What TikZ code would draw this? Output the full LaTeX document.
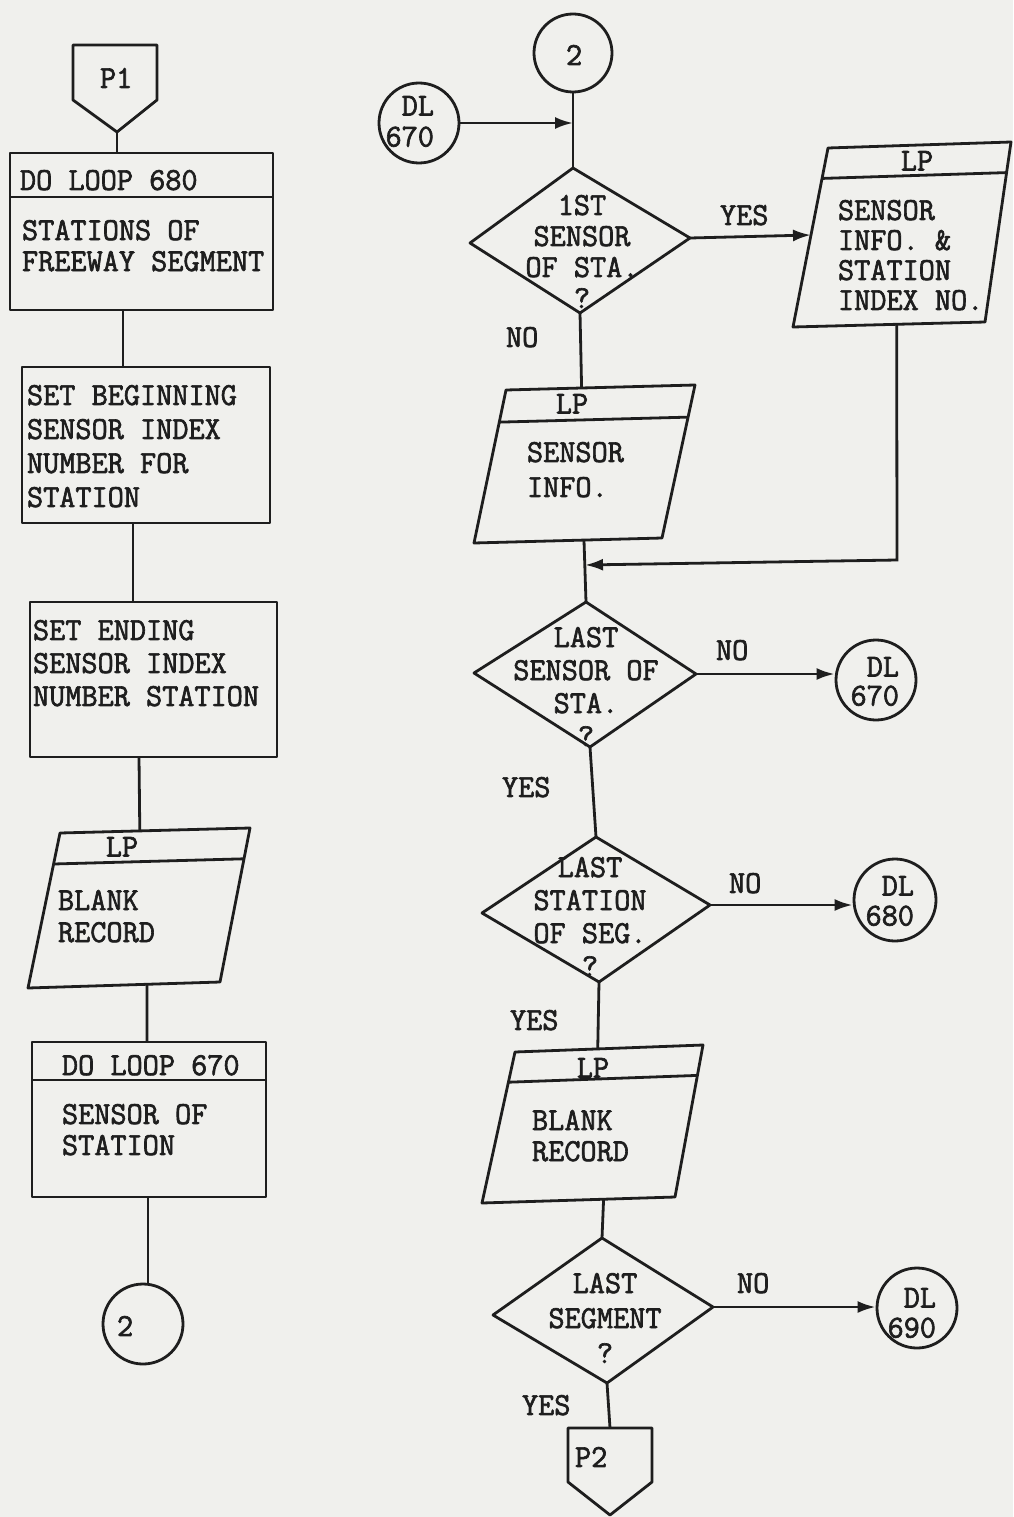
\documentclass[tikz,border=0pt]{standalone}
\usepackage{fontspec}
\newfontfamily\typew{Latin Modern Mono}[FakeStretch=0.98,FakeBold=2]
\usetikzlibrary{calc,arrows.meta}
\definecolor{paper}{RGB}{240,240,237}
\definecolor{ink}{RGB}{30,30,30}
\newcommand\tws[1]{\typew\fontsize{32}{#1}\selectfont}
\begin{document}
\begin{tikzpicture}[x=1pt,y=-1pt,
  shp/.style={draw=ink,line width=2.8pt,line join=round},
  conn/.style={draw=ink,line width=2.8pt},
  arr/.style={draw=ink,line width=2.8pt,-{Latex[length=18pt,width=12pt]}},
  txt/.style={inner sep=0pt,outer sep=0pt,text=ink,align=left,anchor=north west,font={\tws{32}}},
  ctxt/.style={txt,align=center,anchor=north},
  rtxt/.style={txt,align=right,anchor=north east},
  conc/.style={circle,draw=ink,line width=2.8pt,inner sep=0pt,minimum size=#1}]
\fill[paper] (0,0) rectangle (1013,1517);
\useasboundingbox (0,0) rectangle (1013,1517);

% ---------------- left column ----------------
\coordinate (p1a) at (73,45); \coordinate (p1b) at (157,45);
\coordinate (p1c) at (157,100); \coordinate (p1d) at (117,132);
\coordinate (p1e) at (73,100);
\draw[shp] (p1a)--(p1b)--(p1c)--(p1d)--(p1e)--cycle;
\node[txt] (tp1) at (100,68) {P1};

\coordinate (b1nw) at (10,153); \coordinate (b1se) at (273,310);
\draw[shp] (b1nw) rectangle (b1se);
\draw[shp] (10,197)--(273,197);
\node[txt] (tb1a) at (20,170) {DO LOOP 680};
\node[txt,font={\tws{31}}] (tb1b) at (22,220) {STATIONS OF\\FREEWAY SEGMENT};

\coordinate (b2nw) at (22,367); \coordinate (b2se) at (270,523);
\draw[shp] (b2nw) rectangle (b2se);
\node[txt,font={\tws{34}}] (tb2) at (27,385) {SET BEGINNING\\SENSOR INDEX\\NUMBER FOR\\STATION};

\coordinate (b3nw) at (30,602); \coordinate (b3se) at (277,757);
\draw[shp] (b3nw) rectangle (b3se);
\node[txt,font={\tws{33}}] (tb3) at (33,620) {SET ENDING\\SENSOR INDEX\\NUMBER STATION};

\coordinate (lp1tl) at (60,833); \coordinate (lp1tr) at (250,828);
\coordinate (lp1br) at (220,982); \coordinate (lp1bl) at (28,988);
\draw[shp] (lp1tl)--(lp1tr)--(lp1br)--(lp1bl)--cycle;
\draw[shp] ($(lp1tl)!0.2!(lp1bl)$)--($(lp1tr)!0.2!(lp1br)$);
\node[ctxt] (tlp1a) at (122,837) {LP};
\node[txt,font={\tws{32}}] (tlp1b) at (58,890) {BLANK\\RECORD};

\coordinate (b4nw) at (32,1042); \coordinate (b4se) at (266,1197);
\draw[shp] (b4nw) rectangle (b4se);
\draw[shp] (32,1080)--(266,1080);
\node[txt] (tb4a) at (62,1055) {DO LOOP 670};
\node[txt,font={\tws{31}}] (tb4b) at (62,1104) {SENSOR OF\\STATION};

\node[conc=80pt] (c2l) at (143,1324) {};
\node[txt] (tc2l) at (117,1316) {2};

% left connectors
\coordinate (b1n) at (117,153);
\coordinate (b1s) at (123,310); \coordinate (b2n) at (123,367);
\coordinate (b2s) at (133,523); \coordinate (b3n) at (133,602);
\coordinate (b3s) at (139,757);
\coordinate (lp1n) at ($(lp1tl)!0.42!(lp1tr)$);
\coordinate (lp1s) at ($(lp1bl)!0.62!(lp1br)$);
\coordinate (b4n) at (147,1042);
\coordinate (b4s) at (148,1197);
\coordinate (c2ln) at ($(c2l.center)+(5,-40)$);
\draw[conn] (p1d)--(b1n);
\draw[conn] (b1s)--(b2n);
\draw[conn] (b2s)--(b3n);
\draw[conn] (b3s)--(lp1n);
\draw[conn] (lp1s)--(b4n);
\draw[conn] (b4s)--(c2ln);

% ---------------- right column ----------------
\node[conc=78pt] (c2r) at (573,53) {};
\node[txt] (tc2r) at (566,45) {2};

\node[conc=80pt] (dl670a) at (419,123) {};
\node[rtxt,font={\tws{31}}] (tdl670a) at (434,96) {DL\\670};

\coordinate (d1t) at (573,168); \coordinate (d1r) at (690,238);
\coordinate (d1b) at (580,313); \coordinate (d1l) at (470,243);
\draw[shp] (d1t)--(d1r)--(d1b)--(d1l)--cycle;
\node[ctxt,font={\tws{31}}] (td1) at (582,195) {1ST\\SENSOR\\OF STA.\\?};
\node[txt] (yes1) at (720,205) {YES};
\node[txt] (no1) at (506,327) {NO};

\coordinate (lp4tl) at (828,148); \coordinate (lp4tr) at (1011,142);
\coordinate (lp4br) at (985,322); \coordinate (lp4bl) at (793,327);
\draw[shp] (lp4tl)--(lp4tr)--(lp4br)--(lp4bl)--cycle;
\draw[shp] ($(lp4tl)!0.17!(lp4bl)$)--($(lp4tr)!0.17!(lp4br)$);
\node[ctxt] (tlp4a) at (917,151) {LP};
\node[txt,font={\tws{30}}] (tlp4b) at (838,200) {SENSOR\\INFO. \&\\STATION\\INDEX NO.};

\coordinate (lp2tl) at (506,390); \coordinate (lp2tr) at (695,385);
\coordinate (lp2br) at (662,538); \coordinate (lp2bl) at (474,543);
\draw[shp] (lp2tl)--(lp2tr)--(lp2br)--(lp2bl)--cycle;
\draw[shp] ($(lp2tl)!0.21!(lp2bl)$)--($(lp2tr)!0.21!(lp2br)$);
\node[ctxt] (tlp2a) at (572,394) {LP};
\node[txt,font={\tws{35}}] (tlp2b) at (527,442) {SENSOR\\INFO.};

\coordinate (d2t) at (586,602); \coordinate (d2r) at (696,674);
\coordinate (d2b) at (590,747); \coordinate (d2l) at (474,673);
\draw[shp] (d2t)--(d2r)--(d2b)--(d2l)--cycle;
\node[ctxt,font={\tws{33}}] (td2) at (586,627) {LAST\\SENSOR OF\\STA.\\?};
\node[txt] (no2) at (716,640) {NO};
\node[conc=80pt] (dl670b) at (876,680) {};
\node[rtxt,font={\tws{29}}] (tdl670b) at (899,657) {DL\\670};
\node[txt] (yes2) at (502,777) {YES};

\coordinate (d3t) at (596,837); \coordinate (d3r) at (710,905);
\coordinate (d3b) at (599,982); \coordinate (d3l) at (482,913);
\draw[shp] (d3t)--(d3r)--(d3b)--(d3l)--cycle;
\node[ctxt,font={\tws{33}}] (td3) at (590,857) {LAST\\STATION\\OF SEG.\\?};
\node[txt] (no3) at (729,873) {NO};
\node[conc=82pt] (dl680) at (895,900) {};
\node[rtxt,font={\tws{30}}] (tdl680) at (914,876) {DL\\680};
\node[txt] (yes3) at (510,1010) {YES};

\coordinate (lp3tl) at (515,1052); \coordinate (lp3tr) at (703,1045);
\coordinate (lp3br) at (675,1197); \coordinate (lp3bl) at (482,1203);
\draw[shp] (lp3tl)--(lp3tr)--(lp3br)--(lp3bl)--cycle;
\draw[shp] ($(lp3tl)!0.2!(lp3bl)$)--($(lp3tr)!0.2!(lp3br)$);
\node[ctxt] (tlp3a) at (593,1058) {LP};
\node[txt,font={\tws{31}}] (tlp3b) at (532,1110) {BLANK\\RECORD};

\coordinate (d4t) at (602,1238); \coordinate (d4r) at (713,1307);
\coordinate (d4b) at (607,1383); \coordinate (d4l) at (493,1315);
\draw[shp] (d4t)--(d4r)--(d4b)--(d4l)--cycle;
\node[ctxt,font={\tws{35}}] (td4) at (605,1273) {LAST\\SEGMENT\\?};
\node[txt] (no4) at (737,1273) {NO};
\node[conc=80pt] (dl690) at (917,1308) {};
\node[rtxt,font={\tws{30}}] (tdl690) at (936,1288) {DL\\690};
\node[txt] (yes4) at (522,1395) {YES};

\coordinate (p2a) at (568,1428); \coordinate (p2b) at (652,1428);
\coordinate (p2c) at (652,1482); \coordinate (p2d) at (610,1515);
\coordinate (p2e) at (568,1482);
\draw[shp] (p2a)--(p2b)--(p2c)--(p2d)--(p2e)--cycle;
\node[txt] (tp2) at (575,1447) {P2};

% right connectors
\coordinate (j1) at (573,123);
\draw[conn] (c2r.south)--(d1t);
\draw[arr] (dl670a.east)--(j1);
\coordinate (lp4l) at ($(lp4tl)!0.486!(lp4bl)$);
\draw[arr] (d1r)--(lp4l);
\coordinate (lp2n) at ($(lp2tl)!0.4!(lp2tr)$);
\draw[conn] (d1b)--(lp2n);
\coordinate (lp2s) at ($(lp2bl)!0.585!(lp2br)$);
\draw[conn] (lp2s)--(d2t);
\coordinate (lp4s) at ($(lp4bl)!0.54!(lp4br)$);
\coordinate (lp4c) at (897,560);
\coordinate (j2) at (585,565);
\draw[arr] (lp4s)--(lp4c)--(j2);
\draw[arr] (d2r)--(d2r -| dl670b.west);
\draw[conn] (d2b)--(d3t);
\draw[arr] (d3r)--(d3r -| dl680.west);
\coordinate (lp3n) at ($(lp3tl)!0.44!(lp3tr)$);
\draw[conn] (d3b)--(lp3n);
\coordinate (lp3s) at ($(lp3bl)!0.63!(lp3br)$);
\draw[conn] (lp3s)--(d4t);
\draw[arr] (d4r)--(d4r -| dl690.west);
\coordinate (p2n) at (610,1428);
\draw[conn] (d4b)--(p2n);
\end{tikzpicture}
\end{document}
